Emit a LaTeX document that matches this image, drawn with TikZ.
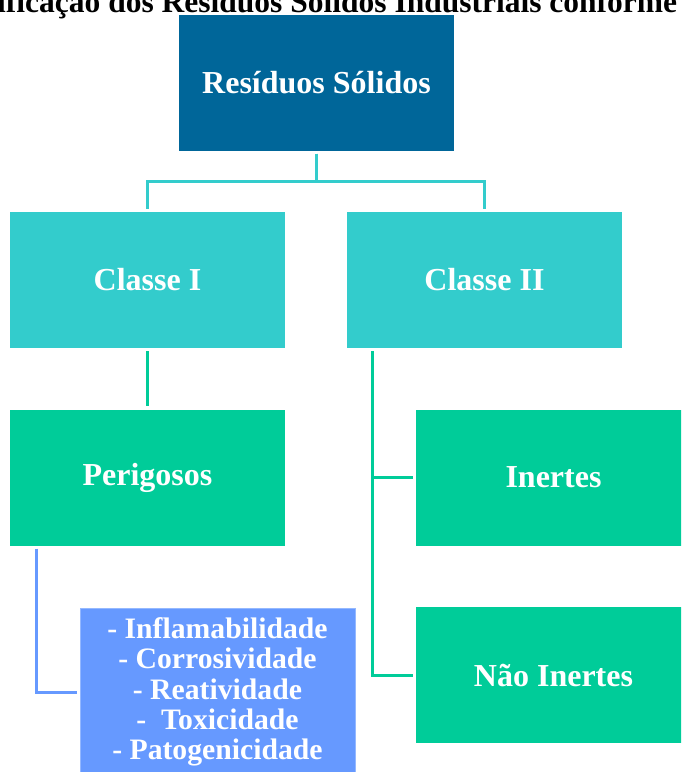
\documentclass[tikz,border=0pt]{standalone}
\usepackage{fontspec}
\setmainfont{Liberation Serif}
\definecolor{dblue}{HTML}{006699}
\definecolor{cyanc}{HTML}{33CCCC}
\definecolor{greenc}{HTML}{00CC99}
\definecolor{bluec}{HTML}{6699FF}
\begin{document}
\begin{tikzpicture}[x=1pt,y=-1pt,
  box/.style={rectangle, inner sep=0pt, minimum width=275pt, minimum height=136pt,
    text=white, font=\bfseries\fontsize{32}{34}\selectfont, align=center},
  conn/.style={line width=3pt}]
\useasboundingbox (0,0) rectangle (681,772);
\clip (0,0) rectangle (681,772);
\fill[white] (0,0) rectangle (681,772);
\node[anchor=base west, font=\bfseries\fontsize{31.5}{31.5}\selectfont, inner sep=0pt] (title) at (-3,12) {ificação dos Resíduos Sólidos Industriais conforme};
\node[box, fill=dblue] (res) at (316.5,82.5) {Resíduos Sólidos};
\node[box, fill=cyanc] (c1) at (147.5,280) {Classe I};
\node[box, fill=cyanc] (c2) at (484.5,280) {Classe II};
\node[box, fill=greenc] (per) at (147.5,477.5) {Perigosos};
\node[box, fill=greenc] (ine) at (553.5,477.5) {Inertes};
\node[box, fill=greenc] (nao) at (553.5,675) {Não Inertes};
\node[box, fill=bluec, draw=bluec!70!white, line width=0.8pt, minimum height=168pt,
  font=\bfseries\fontsize{29.7}{30.4}\selectfont] (lst) at (217.5,692)
  {- Inflamabilidade\\- Corrosividade\\- Reatividade\\-~ Toxicidade\\- Patogenicidade};
\draw[conn, cyanc] ([yshift=-3pt]res.south) -- ++(0,28) -| ([yshift=3pt]c1.north);
\draw[conn, cyanc] ([yshift=-3pt]res.south) -- ++(0,28) -| ([yshift=3pt]c2.north);
\draw[conn, greenc] ([yshift=-3pt]c1.south) -- ([yshift=3pt]per.north);
\draw[conn, greenc] ([xshift=26pt,yshift=-3pt]c2.south west) |- ([xshift=-3pt]nao.west);
\draw[conn, greenc] ([xshift=26pt]c2.south west |- ine.west) -- ([xshift=-3pt]ine.west);
\draw[conn, bluec] ([xshift=27pt,yshift=-3pt]per.south west) |- ([xshift=-3pt]lst.west);
\end{tikzpicture}
\end{document}
